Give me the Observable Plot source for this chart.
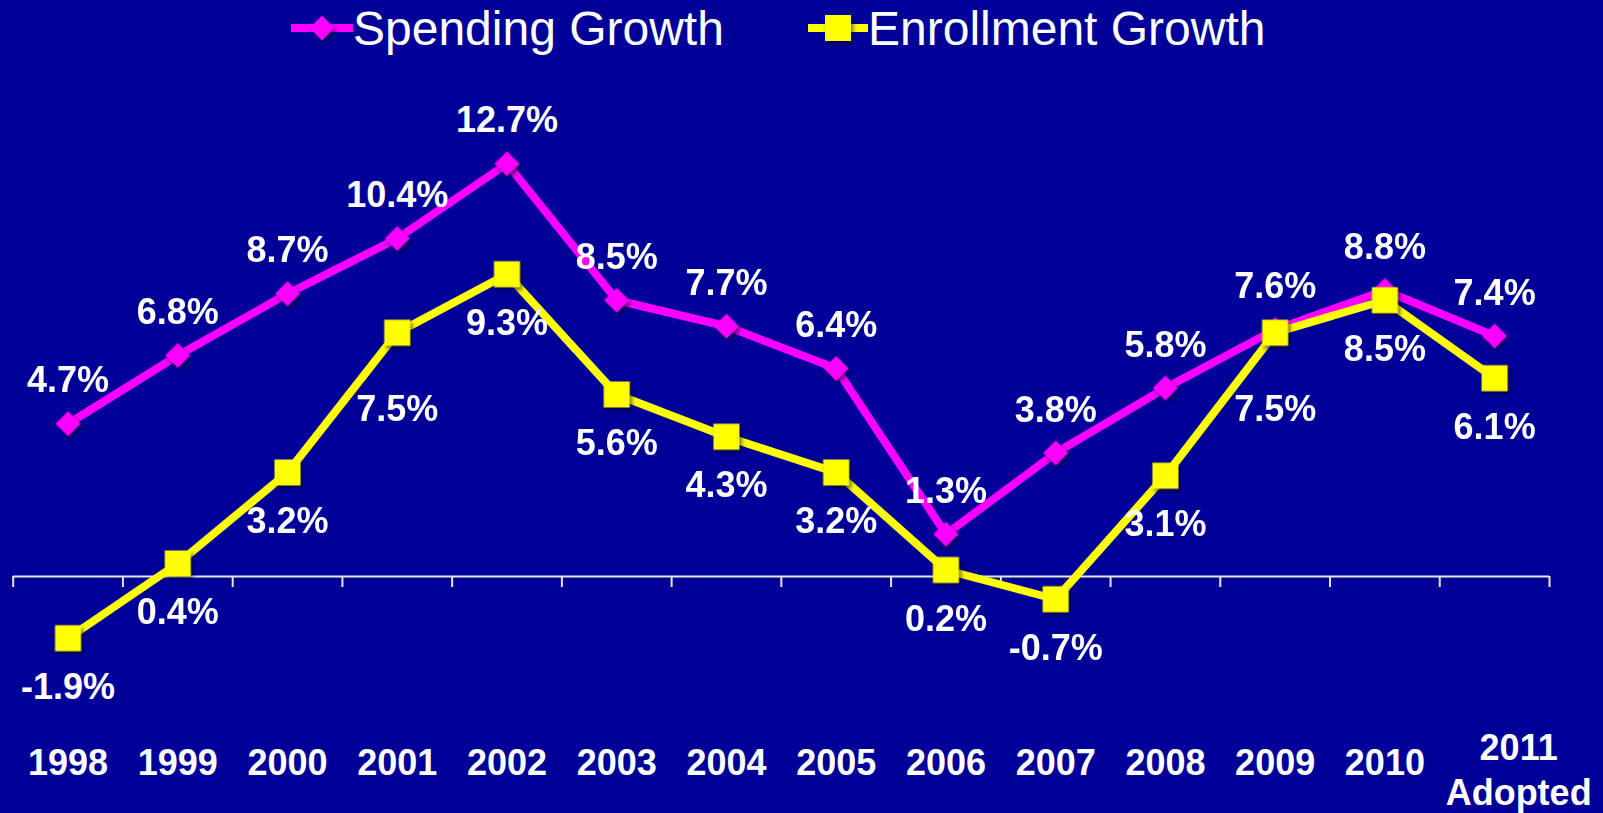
<!DOCTYPE html>
<html><head><meta charset="utf-8">
<script src="https://cdn.jsdelivr.net/npm/d3@7"></script>
<script src="https://cdn.jsdelivr.net/npm/@observablehq/plot@0.6"></script>
<style>
html,body{margin:0;padding:0;background:#000099;overflow:hidden;}
body{width:1603px;height:813px;font-family:"Liberation Sans",Arial,sans-serif;}
#legend{position:relative;height:56px;color:#fff;font-size:48px;}
.item{position:absolute;top:0;height:56px;display:flex;align-items:center;white-space:nowrap;}
.item svg{display:block;}
#chart svg{display:block;}
#chart g[aria-label="dot"], #legend .mk{filter:drop-shadow(2px 3px 2px rgba(0,0,40,0.6));}
</style>
</head><body>
<div id="legend"></div>
<div id="chart"></div>
<script>
const years = ["1998","1999","2000","2001","2002","2003","2004","2005","2006","2007","2008","2009","2010","2011\nAdopted"];
const spending = [4.7,6.8,8.7,10.4,12.7,8.5,7.7,6.4,1.3,3.8,5.8,7.6,8.8,7.4];
const enrollment = [-1.9,0.4,3.2,7.5,9.3,5.6,4.3,3.2,0.2,-0.7,3.1,7.5,8.5,6.1];
const seriesNames = ["Spending Growth","Enrollment Growth"];

const MAG = "#ff00ff", YEL = "#ffff00";
const fmt = v => v.toFixed(1) + "%";
const spendRows = spending.map((v,i)=>({i, v, label: fmt(v)}));
const enrollRows = enrollment.map((v,i)=>({i, v, label: fmt(v)}));
const yearRows = years.map((label,i)=>({i, label}));
const boundaries = d3.range(years.length + 1).map(k => k - 0.5);

// legend
const legend = document.getElementById("legend");
const items = [
  {name: seriesNames[0], color: MAG, left: 291, w: 62, shape: "diamond"},
  {name: seriesNames[1], color: YEL, left: 808, w: 60, shape: "square"}
];
for (const it of items) {
  const div = document.createElement("div");
  div.className = "item";
  div.style.left = it.left + "px";
  const c = it.w/2;
  const marker = it.shape === "diamond"
    ? `<path class="mk" d="M${c},15.5L${c+12.5},28L${c},40.5L${c-12.5},28Z" fill="${it.color}"/>`
    : `<rect class="mk" x="${c-13}" y="15" width="26" height="26" fill="${it.color}"/>`;
  div.innerHTML = `<svg width="${it.w}" height="56"><line x1="0" x2="${it.w}" y1="28" y2="28" stroke="${it.color}" stroke-width="8"/>${marker}</svg><span>${it.name}</span>`;
  legend.appendChild(div);
}

const H = 757, yMin = -3, yMax = 14, mTop = 65, mBottom = 139.5;
const pxPerUnit = (H - mTop - mBottom) / (yMax - yMin);
const txt = {fill: "white", fontSize: 36, fontWeight: "bold"};

const plot = Plot.plot({
  width: 1603,
  height: H,
  marginLeft: 12.7,
  marginRight: 54,
  marginTop: mTop,
  marginBottom: mBottom,
  x: {type: "linear", domain: [-0.5, years.length - 0.5], axis: null},
  y: {domain: [yMin, yMax], axis: null},
  style: {background: "#000099", color: "white", fontFamily: "'Liberation Sans', Arial, sans-serif", overflow: "visible"},
  marks: [
    Plot.ruleY([0], {stroke: "#e6e6e6", strokeWidth: 2}),
    Plot.ruleX(boundaries, {x: d => d, y1: 0, y2: -11 / pxPerUnit, stroke: "#e6e6e6", strokeWidth: 2}),
    Plot.line(spendRows, {x: "i", y: "v", stroke: MAG, strokeWidth: 8, strokeLinejoin: "miter"}),
    Plot.dot(spendRows, {x: "i", y: "v", symbol: "diamond2", r: 11.3, fill: MAG, stroke: "none"}),
    Plot.line(enrollRows, {x: "i", y: "v", stroke: YEL, strokeWidth: 8, strokeLinejoin: "miter"}),
    Plot.dot(enrollRows, {x: "i", y: "v", symbol: "square", r: 14.7, fill: YEL, stroke: "none"}),
    Plot.text(spendRows, {x: "i", y: "v", text: "label", dy: -43, ...txt}),
    Plot.text(enrollRows.filter(d => !(d.i === 3 || d.i === 11)), {x: "i", y: "v", text: "label", dy: 49, ...txt}),
    Plot.text(enrollRows.filter(d => d.i === 3 || d.i === 11), {x: "i", y: "v", text: "label", dy: 77, ...txt}),
    Plot.text(yearRows.filter(d => !d.label.includes("\n")), {x: "i", frameAnchor: "bottom", text: "label", dy: 101, ...txt}),
    Plot.text(yearRows.filter(d => d.label.includes("\n")), {x: "i", frameAnchor: "bottom", text: "label", dy: 131, dx: 24, lineHeight: 1.25, ...txt})
  ]
});
document.getElementById("chart").appendChild(plot);
</script>
</body></html>
